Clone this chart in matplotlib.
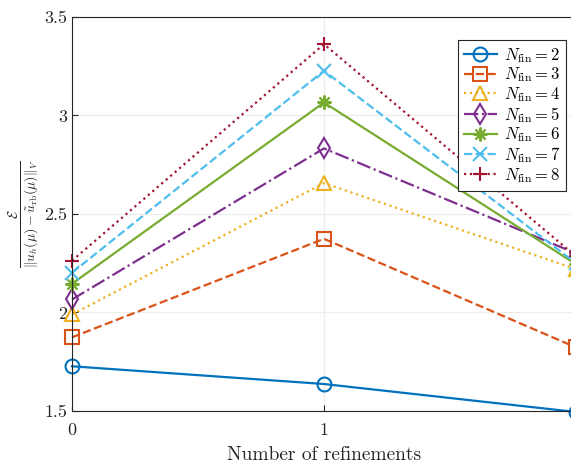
import numpy as np
import matplotlib.pyplot as plt

plt.rcParams['font.family'] = 'serif'
plt.rcParams['font.serif'] = ['cmr10']
plt.rcParams['mathtext.fontset'] = 'cm'
plt.rcParams['axes.formatter.use_mathtext'] = True

# Data
refinements = [0, 1, 2]
n_fin = [2, 3, 4, 5, 6, 7, 8]
err_2 = [1.727, 1.637, 1.495]
err_3 = [1.874, 2.374, 1.823]
err_4 = [1.990, 2.657, 2.220]
err_5 = [2.066, 2.833, 2.300]
err_6 = [2.146, 3.066, 2.245]
err_7 = [2.202, 3.227, 2.250]
err_8 = [2.263, 3.362, 2.285]
series = [err_2, err_3, err_4, err_5, err_6, err_7, err_8]

colors = ['#0072BD', '#D95319', '#EDB120', '#7E2F8E', '#77AC30', '#4DBEEE', '#A2142F']
styles = ['-', '--', ':', '-.', '-', '--', ':']
markers = ['o', 's', '^', 'd', (8, 2, 0), 'x', '+']

fig = plt.figure(figsize=(5.71, 4.65), dpi=100)
ax = fig.add_axes([72/571, 54/465, 504/571, 394/465])

for n, vals, c, ls, m in zip(n_fin, series, colors, styles, markers):
    ax.plot(refinements, vals, color=c, linestyle=ls, marker=m, markersize=10,
            markerfacecolor='none', markeredgewidth=1.5, linewidth=1.6,
            label=r'$N_{\rm fin} = %d$' % n, clip_on=False)

ax.set_xlim(0, 2)
ax.set_ylim(1.5, 3.5)
ax.set_xticks([0, 1])
ax.set_yticks([1.5, 2, 2.5, 3, 3.5])
ax.set_yticklabels(['1.5', '2', '2.5', '3', '3.5'])
ax.tick_params(direction='in', labelsize=13, length=4, color='#262626', labelcolor='#262626')
ax.tick_params(axis='x', pad=8)
ax.grid(True, color='#ececec', linewidth=0.8)
ax.axvline(2, color='#ececec', linewidth=0.8, zorder=0)
ax.set_axisbelow(True)
for s in ax.spines.values():
    s.set_color('#262626')

ax.set_xlabel('Number of refinements', fontsize=14, color='#262626', labelpad=6)
ax.set_ylabel(r'$\frac{\mathcal{E}}{\|u_h(\mu)-\tilde{u}_{\rm rb}(\mu)\|_V}$',
              fontsize=14, color='#262626', labelpad=2)

leg = ax.legend(loc='upper right', bbox_to_anchor=(566/571, 425/465),
                bbox_transform=fig.transFigure, fontsize=12, frameon=True,
                fancybox=False, edgecolor='#262626', framealpha=1, borderaxespad=0,
                handlelength=2.0, borderpad=0.35, labelspacing=0.05, handletextpad=0.4)
leg.get_frame().set_linewidth(0.8)

fig.savefig('out.png', dpi=100)
